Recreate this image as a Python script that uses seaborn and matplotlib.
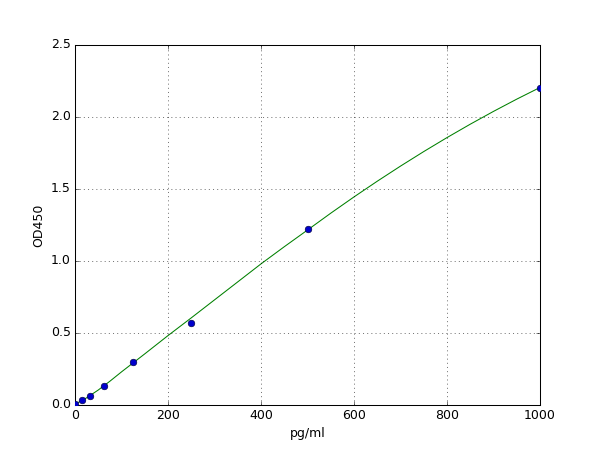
import numpy as np
import pandas as pd
import matplotlib
matplotlib.use('Agg')
import matplotlib.pyplot as plt
import seaborn as sns

matplotlib.style.use('classic')

# standard points
conc = [0, 15.6, 31.25, 62.5, 125, 250, 500, 1000]
od = [0.01, 0.035, 0.065, 0.132, 0.302, 0.572, 1.22, 2.20]

# fitted curve
curve_x = [0, 25, 50, 75, 100, 150, 200, 250, 300, 350, 400, 450, 500,
           550, 600, 650, 700, 750, 800, 850, 900, 950, 1000]
curve_y = [0.005, 0.05, 0.104, 0.165, 0.23, 0.355, 0.482, 0.605, 0.73, 0.855, 0.98,
           1.099, 1.215, 1.332, 1.445, 1.554, 1.659, 1.760, 1.857, 1.950, 2.039, 2.124, 2.205]

points = pd.DataFrame({'pg/ml': conc, 'OD450': od})
curve = pd.DataFrame({'pg/ml': curve_x, 'OD450': curve_y})

fig = plt.figure(figsize=(8, 6), dpi=75)
ax = fig.add_subplot(111)

sns.lineplot(data=curve, x='pg/ml', y='OD450', color='g', linewidth=1.0, ax=ax, zorder=2)
sns.scatterplot(data=points, x='pg/ml', y='OD450', color='#0000cc', s=40,
                edgecolor='#000040', linewidth=0.6, ax=ax, zorder=3)

ax.set_xlim(0, 1000)
ax.set_ylim(0, 2.5)
ax.set_xticks([0, 200, 400, 600, 800, 1000])
ax.set_yticks([0.0, 0.5, 1.0, 1.5, 2.0, 2.5])
ax.grid(True, color='k', linestyle=':', linewidth=0.5)
ax.set_xlabel('pg/ml')
ax.set_ylabel('OD450')

fig.savefig('out.png', dpi=75, facecolor='white')
